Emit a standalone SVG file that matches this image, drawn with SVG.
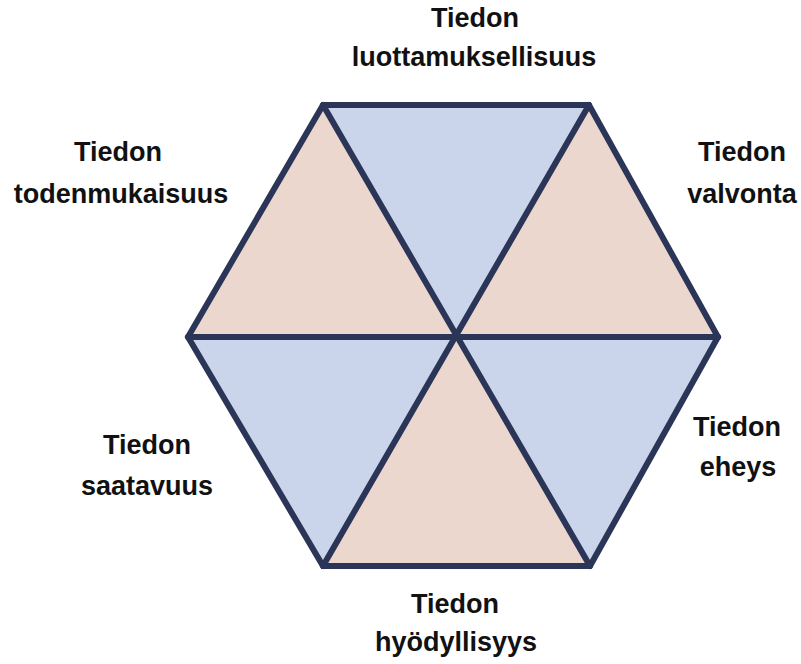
<svg xmlns="http://www.w3.org/2000/svg" width="801" height="664" viewBox="0 0 801 664">
<style>
.blue{fill:#cad4ea}
.pink{fill:#ecd7cf}
.edge{stroke:#2b3557;stroke-width:6;fill:none;stroke-linejoin:miter;stroke-linecap:round}
.lbl{font-family:"Liberation Sans",Arial,sans-serif;font-weight:bold;font-size:27px;fill:#111;text-anchor:middle}
</style>
<rect width="801" height="664" fill="#ffffff"/>
<g id="sectors">
<polygon id="s-top" class="blue" points="323,105 589,105 456,336"/>
<polygon id="s-upright" class="pink" points="589,105 718,337 456,336"/>
<polygon id="s-lowright" class="blue" points="718,337 590,566 456,336"/>
<polygon id="s-bottom" class="pink" points="590,566 323,566 456,336"/>
<polygon id="s-lowleft" class="blue" points="323,566 188,337 456,336"/>
<polygon id="s-upleft" class="pink" points="188,337 323,105 456,336"/>
</g>
<g id="connectors">
<polygon class="edge" points="323,105 589,105 718,337 590,566 323,566 188,337"/>
<line class="edge" x1="323" y1="105" x2="590" y2="566"/>
<line class="edge" x1="589" y1="105" x2="323" y2="566"/>
<line class="edge" x1="188" y1="337" x2="718" y2="337"/>
</g>
<g id="luottamuksellisuus">
<text class="lbl" x="475" y="27">Tiedon</text>
<text class="lbl" x="474" y="66">luottamuksellisuus</text>
</g>
<g id="valvonta">
<text class="lbl" x="742" y="161">Tiedon</text>
<text class="lbl" x="742" y="203">valvonta</text>
</g>
<g id="eheys">
<text class="lbl" x="737" y="436">Tiedon</text>
<text class="lbl" x="738" y="476">eheys</text>
</g>
<g id="hyodyllisyys">
<text class="lbl" x="455" y="613">Tiedon</text>
<text class="lbl" x="456" y="651">hyödyllisyys</text>
</g>
<g id="saatavuus">
<text class="lbl" x="147" y="454">Tiedon</text>
<text class="lbl" x="147" y="495">saatavuus</text>
</g>
<g id="todenmukaisuus">
<text class="lbl" x="118" y="161">Tiedon</text>
<text class="lbl" x="121" y="203">todenmukaisuus</text>
</g>
</svg>
